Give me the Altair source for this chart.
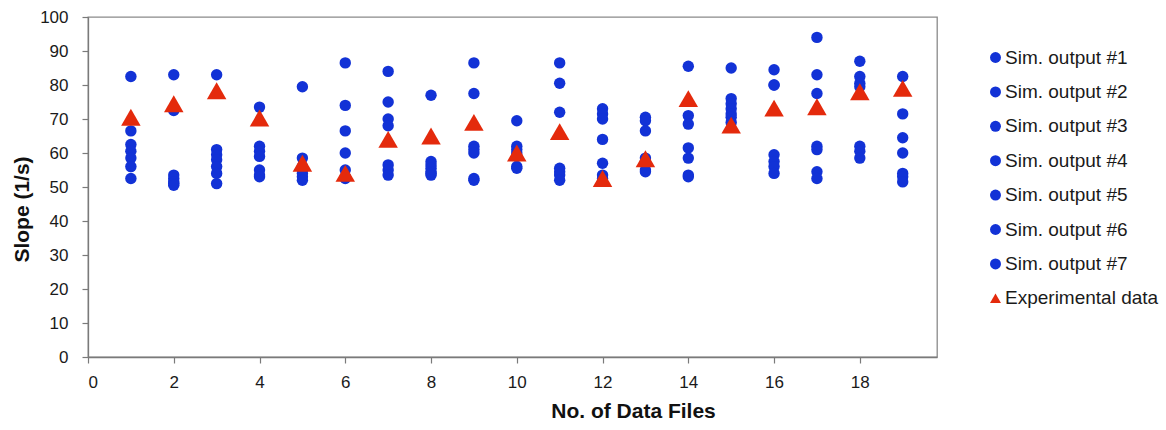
import altair as alt
import pandas as pd

# Data file index (x) shared by every series
files = list(range(1, 20))

# Simulated slope outputs (1/s), one list per simulation run
sim1 = [82.5, 83, 83, 73.5, 79.5, 86.5, 84, 77, 86.5, 69.5, 86.5, 73, 70.5, 85.5, 85, 84.5, 94, 87, 82.5]
sim2 = [66.5, 72.5, 61, 62, 58.5, 74, 75, 57.5, 77.5, 62, 80.5, 71.5, 69.5, 71, 76, 80, 83, 82.5, 71.5]
sim3 = [62.5, 53.5, 59.5, 60.5, 56, 66.5, 70, 56.5, 62, 61, 72, 70, 66.5, 68.5, 74.5, 80, 77.5, 80.5, 64.5]
sim4 = [60.5, 52.5, 58, 59, 55, 60, 68, 55.5, 61, 60, 55.5, 64, 58.5, 61.5, 73, 59.5, 62, 79.5, 60]
sim5 = [58.5, 51.5, 56, 55, 54, 55, 56.5, 54.5, 60, 59, 54.5, 57, 57.5, 58.5, 71.5, 57.5, 61, 62, 54]
sim6 = [56, 51, 54, 53.5, 53, 53, 55, 54, 52.5, 56, 53.5, 53.5, 55, 53.5, 70.5, 56, 54.5, 60.5, 53]
sim7 = [52.5, 50.5, 51, 53, 52, 52.5, 53.5, 53.5, 52, 55.5, 52, 52.5, 54.5, 53, 69, 54, 52.5, 58.5, 51.5]

# Measured slopes
experimental = [70.5, 74.5, 78.3, 70.3, 57, 54, 64, 65, 69, 60, 66.3, 52.5, 58.3, 76, 68.2, 73.2, 73.6, 78, 79]

series_names = [
    "Sim. output #1", "Sim. output #2", "Sim. output #3", "Sim. output #4",
    "Sim. output #5", "Sim. output #6", "Sim. output #7", "Experimental data",
]
series_colors = ["#1232d6"] * 7 + ["#e42a0c"]
series_shapes = ["circle"] * 7 + ["triangle-up"]

x_ticks = list(range(0, 19, 2))
y_ticks = list(range(0, 101, 10))

sim_rows = []
for name, values in zip(series_names[:7], [sim1, sim2, sim3, sim4, sim5, sim6, sim7]):
    for f, v in zip(files, values):
        sim_rows.append({"file": f, "slope": v, "series": name})
sim_df = pd.DataFrame(sim_rows)
exp_df = pd.DataFrame({"file": files, "slope": experimental, "series": series_names[7]})

FONT = "Liberation Sans"

x_enc = alt.X(
    "file:Q",
    scale=alt.Scale(domain=[0, 19.8], nice=False, zero=False),
    axis=alt.Axis(
        values=x_ticks, title="No. of Data Files", labelPadding=11,
        titleX=545, titleY=60, titleAlign="center", titleBaseline="alphabetic",
    ),
)
y_enc = alt.Y(
    "slope:Q",
    scale=alt.Scale(domain=[0, 100], nice=False),
    axis=alt.Axis(
        values=y_ticks, title="Slope (1/s)", labelPadding=14,
        titleX=-66, titleY=192, titleAngle=270, titleAlign="center", titleBaseline="middle",
    ),
)
color_enc = alt.Color(
    "series:N",
    scale=alt.Scale(domain=series_names, range=series_colors),
    legend=alt.Legend(
        title=None, orient="none", legendX=898, legendY=31, padding=0,
        rowPadding=14.4, labelFontSize=19, labelFont=FONT, labelColor="#1a1a1a",
        symbolSize=120, symbolStrokeWidth=0, labelOffset=0,
    ),
)
shape_enc = alt.Shape(
    "series:N",
    scale=alt.Scale(domain=series_names, range=series_shapes),
    legend=alt.Legend(title=None),
)

circles = alt.Chart(sim_df).mark_point(filled=True, size=130, opacity=1).encode(
    x=x_enc, y=y_enc, color=color_enc, shape=shape_enc
)
triangles = alt.Chart(exp_df).mark_point(filled=True, size=380, opacity=1).encode(
    x=x_enc, y=y_enc, color=color_enc, shape=shape_enc
)

chart = (
    alt.layer(circles, triangles)
    .properties(
        width=849, height=340,
        autosize=alt.AutoSizeParams(type="none"),
        padding={"left": 88, "top": 17, "right": 229, "bottom": 73},
        background="white",
    )
    .configure_view(stroke="#8a8a8a", strokeWidth=1.3)
    .configure_axis(
        grid=False, domainColor="#7a7a7a", domainWidth=1.3, tickColor="#7a7a7a",
        tickSize=6, tickWidth=1.2, labelFont=FONT, labelFontSize=17, labelColor="#1a1a1a",
        titleFont=FONT, titleFontSize=21, titleFontWeight="bold", titleColor="#111111",
    )
)

chart.save("out.html", embed_options={"renderer": "svg", "actions": False})
